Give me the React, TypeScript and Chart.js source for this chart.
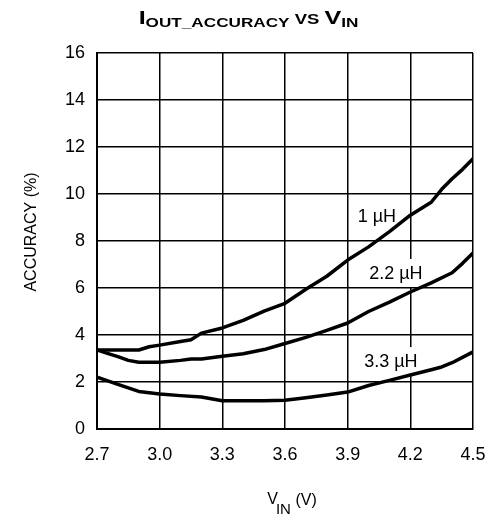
import React, { useEffect, useRef } from "react";
import { Chart, registerables } from "chart.js";

Chart.register(...registerables);

// ---- data ----
const xTicks = [2.7, 3.0, 3.3, 3.6, 3.9, 4.2, 4.5];
const yTicks = [0, 2, 4, 6, 8, 10, 12, 14, 16];

const seriesNames = ["1 µH", "2.2 µH", "3.3 µH"];

const vin1 = [2.7, 2.8, 2.9, 2.95, 3.0, 3.1, 3.15, 3.2, 3.3, 3.4, 3.5, 3.6, 3.7, 3.8, 3.9, 4.0, 4.1, 4.2, 4.3, 4.35, 4.4, 4.45, 4.5];
const acc1 = [3.36, 3.36, 3.36, 3.5, 3.57, 3.72, 3.8, 4.08, 4.3, 4.62, 5.02, 5.35, 5.95, 6.5, 7.19, 7.75, 8.4, 9.1, 9.65, 10.2, 10.65, 11.05, 11.5];

const vin2 = [2.7, 2.75, 2.8, 2.85, 2.9, 3.0, 3.1, 3.15, 3.2, 3.3, 3.4, 3.5, 3.6, 3.7, 3.8, 3.9, 4.0, 4.1, 4.2, 4.3, 4.4, 4.45, 4.5];
const acc2 = [3.36, 3.22, 3.08, 2.92, 2.84, 2.84, 2.92, 2.98, 2.98, 3.1, 3.2, 3.38, 3.64, 3.9, 4.2, 4.51, 5.0, 5.4, 5.83, 6.22, 6.65, 7.05, 7.49];

const vin3 = [2.7, 2.8, 2.9, 3.0, 3.1, 3.2, 3.3, 3.4, 3.5, 3.6, 3.7, 3.8, 3.9, 4.0, 4.1, 4.2, 4.3, 4.35, 4.4, 4.5];
const acc3 = [2.21, 1.9, 1.6, 1.49, 1.42, 1.36, 1.2, 1.2, 1.2, 1.22, 1.33, 1.45, 1.57, 1.85, 2.07, 2.3, 2.52, 2.64, 2.82, 3.28];

// curve label positions (data units)
const labelX = [4.04, 4.131, 4.107];
const labelY = [9.06, 6.64, 2.89];

const FONT = "'Liberation Sans', Arial, Helvetica, sans-serif";

const toPoints = (xs: number[], ys: number[]) => xs.map((x, i) => ({ x, y: ys[i] }));

const textPlugin = {
  id: "textPlugin",
  beforeDatasetsDraw(chart: any) {
    const ctx = chart.ctx;
    const xs = chart.scales.x;
    const ys = chart.scales.y;
    ctx.save();
    ctx.font = `18px ${FONT}`;
    ctx.textBaseline = "middle";
    ctx.textAlign = "center";
    seriesNames.forEach((name, i) => {
      const px = xs.getPixelForValue(labelX[i]);
      const py = ys.getPixelForValue(labelY[i]);
      const w = ctx.measureText(name).width;
      ctx.fillStyle = "#ffffff";
      ctx.fillRect(px - w / 2 - 3, py - 14, w + 6, 28);
      ctx.fillStyle = "#000000";
      ctx.fillText(name, px, py + 1);
    });
    ctx.restore();
  },
  afterDraw(chart: any) {
    const ctx = chart.ctx;
    ctx.save();
    ctx.fillStyle = "#000000";
    ctx.textBaseline = "alphabetic";
    ctx.textAlign = "left";
    // title: I_OUT_ACCURACY VS V_IN (wide bold face, stretched horizontally)
    const stretch = 1.32;
    const parts = [
      { t: "I", f: `bold 19px ${FONT}`, dy: 0 },
      { t: "OUT_ACCURACY", f: `bold 13px ${FONT}`, dy: 3 },
      { t: " VS ", f: `bold 14px ${FONT}`, dy: 0 },
      { t: "V", f: `bold 19px ${FONT}`, dy: 0 },
      { t: "IN", f: `bold 13px ${FONT}`, dy: 3 },
    ];
    let total = 0;
    parts.forEach((p) => {
      ctx.font = p.f;
      total += ctx.measureText(p.t).width;
    });
    ctx.save();
    ctx.translate(248.5 - (total * stretch) / 2, 0);
    ctx.scale(stretch, 1);
    let x = 0;
    parts.forEach((p) => {
      ctx.font = p.f;
      ctx.fillText(p.t, x, 24 + p.dy);
      x += ctx.measureText(p.t).width;
    });
    ctx.restore();

    // x-axis title: V_IN (V)
    const xp = [
      { t: "V", f: `16px ${FONT}`, dy: 0 },
      { t: "IN", f: `15px ${FONT}`, dy: 10 },
      { t: " (V)", f: `16px ${FONT}`, dy: 1 },
    ];
    let tw = 0;
    xp.forEach((p) => {
      ctx.font = p.f;
      tw += ctx.measureText(p.t).width;
    });
    let x2 = 293 - tw / 2;
    xp.forEach((p, i) => {
      ctx.font = p.f;
      ctx.fillText(p.t, x2, 504 + p.dy);
      x2 += ctx.measureText(p.t).width - (i === 0 ? 2 : 0);
    });

    // y-axis title
    ctx.font = `16px ${FONT}`;
    ctx.translate(32, 232);
    ctx.rotate(-Math.PI / 2);
    ctx.textAlign = "center";
    ctx.textBaseline = "middle";
    ctx.fillText("ACCURACY (%)", 0, 0);
    ctx.restore();
  },
};

export default function App() {
  const ref = useRef<HTMLCanvasElement | null>(null);

  useEffect(() => {
    document.body.style.margin = "0";
    const canvas = ref.current;
    if (!canvas) return;
    const lineStyle = {
      borderColor: "#000000",
      borderWidth: 3.5,
      pointRadius: 0,
      tension: 0,
      fill: false,
      borderJoinStyle: "round" as const,
      borderCapStyle: "round" as const,
    };
    const chart = new Chart(canvas, {
      type: "line",
      data: {
        datasets: [
          { label: seriesNames[0], data: toPoints(vin1, acc1), ...lineStyle },
          { label: seriesNames[1], data: toPoints(vin2, acc2), ...lineStyle },
          { label: seriesNames[2], data: toPoints(vin3, acc3), ...lineStyle },
        ],
      },
      options: {
        animation: false,
        responsive: false,
        devicePixelRatio: 1,
        layout: { padding: { left: 0, top: 53, right: 24, bottom: 0 } },
        plugins: { legend: { display: false }, title: { display: false }, tooltip: { enabled: false } },
        scales: {
          x: {
            type: "linear",
            min: 2.7,
            max: 4.5,
            afterBuildTicks: (scale: any) => {
              scale.ticks = xTicks.map((v) => ({ value: v }));
            },
            afterFit: (scale: any) => {
              scale.height = 87;
              scale.paddingLeft = 0;
              scale.paddingRight = 0;
            },
            ticks: {
              color: "#000",
              font: { family: FONT, size: 18 },
              padding: 15,
              maxRotation: 0,
              callback: (v: any) => Number(v).toFixed(1),
            },
            grid: { color: "#000", lineWidth: 1.5, drawTicks: false },
            border: { color: "#000", width: 2 },
          },
          y: {
            type: "linear",
            min: 0,
            max: 16,
            afterBuildTicks: (scale: any) => {
              scale.ticks = yTicks.map((v) => ({ value: v }));
            },
            afterFit: (scale: any) => {
              scale.width = 97;
              scale.paddingTop = 0;
              scale.paddingBottom = 0;
            },
            ticks: {
              color: "#000",
              font: { family: FONT, size: 18 },
              padding: 12,
            },
            grid: { color: "#000", lineWidth: 1.5, drawTicks: false },
            border: { color: "#000", width: 2 },
          },
        },
      },
      plugins: [textPlugin],
    });
    return () => chart.destroy();
  }, []);

  return (
    <div style={{ position: "absolute", left: 0, top: 0, width: 497, height: 516, background: "#fff" }}>
      <canvas ref={ref} width={497} height={516} style={{ display: "block" }} />
    </div>
  );
}
